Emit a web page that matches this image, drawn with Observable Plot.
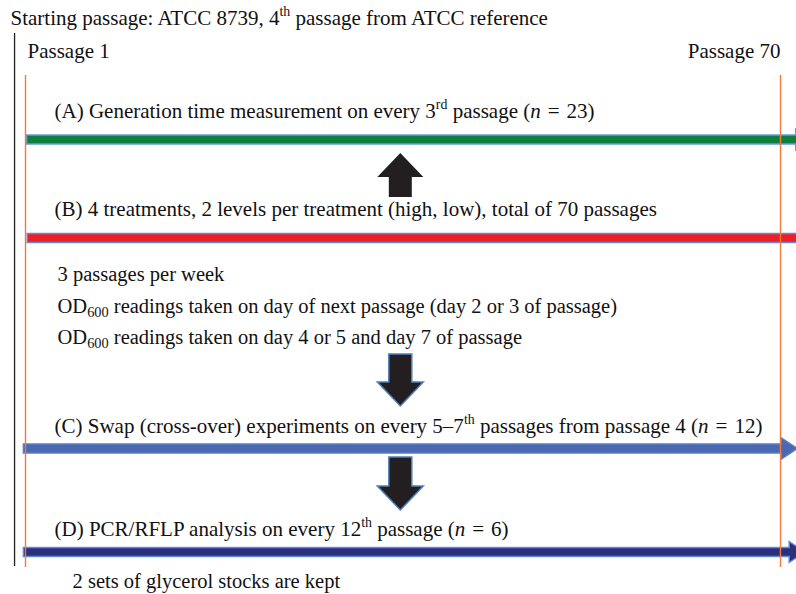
<!DOCTYPE html>
<html>
<head>
<meta charset="utf-8">
<script src="https://cdn.jsdelivr.net/npm/d3@7"></script>
<script src="https://cdn.jsdelivr.net/npm/@observablehq/plot@0.6"></script>
<style>
  html, body { margin: 0; padding: 0; background: #fff; }
  #chart svg { display: block; }
</style>
</head>
<body>
<div id="chart"></div>
<script>
// ---------------- data ----------------
const titleText = "Starting passage: ATCC 8739, 4^{th} passage from ATCC reference";
const titlePassage = -0.37;          // title starts just left of the starting stock line
const startPassage = 0;              // starting stock (before passage 1)
const passages = [1, 70];
const passageLabels = ["Passage 1", "Passage 70"];

const stageLabels = [
  "(A) Generation time measurement on every 3^{rd} passage (*n*\u2004=\u200423)",
  "(B) 4 treatments, 2 levels per treatment (high, low), total of 70 passages",
  "(C) Swap (cross-over) experiments on every 5–7^{th} passages from passage 4 (*n*\u2004=\u200412)",
  "(D) PCR/RFLP analysis on every 12^{th} passage (*n*\u2004=\u20046)"
];
const stageLabelPassage = [3.65, 3.65, 3.65, 3.65];
const stageLabelRow = [117, 215, 432, 535];
const stageBarRow = [139.5, 238, 448.5, 552];
const stageBarStart = [1.15, 1.2, 0.85, 0.85];
const stageBarTip = [72.9, 73.0, 71.6, 72.3];

const notes = [
  "3 passages per week",
  "OD_{600} readings taken on day of next passage (day 2 or 3 of passage)",
  "OD_{600} readings taken on day 4 or 5 and day 7 of passage",
  "2 sets of glycerol stocks are kept"
];
const notePassage = [3.93, 3.93, 3.93, 5.3];
const noteRow = [280, 312, 343, 587];

// flow arrows between stages (rows: tail -> tip)
const flowPassage = 35.3;
const flowFrom = [197, 354, 457];
const flowTo = [153, 406, 510];

const titleRow = 24;
const passageLabelRow = 57;
const timelineTop = 75, timelineBottom = 567;
const startLineTop = 33, startLineBottom = 566;

// ---------------- style ----------------
const FONT = "Liberation Serif";
const FS = 21;
const NOTE_FS = 20.5;
const STAGE_FILLS = ["#0f7f40", "#ee1f26", "#4a69b0", "#2b2f7e"];
const STAGE_OUTLINES = ["#6a9ad6", "#5b8fd0", "#5a7fc4", "#5b8fd6"];
const FLOW_OUTLINES = [null, "#4f81bd", "#4f81bd"];
const BAR_HALF = 4.5, HEAD_HALF = 10.5, HEAD_LEN = 16;
const SHAFT_HALF = 11.5, VHEAD_HALF = 23, VHEAD_LEN = 24;

function arrows(index, scales, values, dimensions) {
  const {x, y} = scales;
  const g = d3.create("svg:g");
  stageBarRow.forEach((row, i) => {
    const x0 = x(stageBarStart[i]), x1 = x(stageBarTip[i]), cy = y(row);
    const pts = [[x0, cy - BAR_HALF], [x1 - HEAD_LEN, cy - BAR_HALF], [x1 - HEAD_LEN, cy - HEAD_HALF],
      [x1, cy], [x1 - HEAD_LEN, cy + HEAD_HALF], [x1 - HEAD_LEN, cy + BAR_HALF], [x0, cy + BAR_HALF]];
    g.append("path")
      .attr("d", "M" + pts.map(p => p.join(",")).join("L") + "Z")
      .attr("fill", STAGE_FILLS[i])
      .attr("stroke", STAGE_OUTLINES[i])
      .attr("stroke-width", 1.4);
  });
  const cx = x(flowPassage);
  flowFrom.forEach((from, i) => {
    const y0 = y(from), y1 = y(flowTo[i]);
    const s = Math.sign(y1 - y0);
    const hb = y1 - s * VHEAD_LEN;
    const pts = [[cx - SHAFT_HALF, y0], [cx + SHAFT_HALF, y0], [cx + SHAFT_HALF, hb], [cx + VHEAD_HALF, hb],
      [cx, y1], [cx - VHEAD_HALF, hb], [cx - SHAFT_HALF, hb]];
    const p = g.append("path")
      .attr("d", "M" + pts.map(p => p.join(",")).join("L") + "Z")
      .attr("fill", "#231f20");
    if (FLOW_OUTLINES[i]) p.attr("stroke", FLOW_OUTLINES[i]).attr("stroke-width", 1.5).attr("stroke-linejoin", "miter");
  });
  return g.node();
}

function richify(svg) {
  const NS = "http://www.w3.org/2000/svg";
  svg.querySelectorAll("text").forEach(t => {
    const s = t.textContent;
    if (!/\^\{|_\{|\*/.test(s)) return;
    const fs = parseFloat(getComputedStyle(t).fontSize) || FS;
    t.textContent = "";
    const re = /(\^\{[^}]*\}|_\{[^}]*\}|\*[^*]*\*)/g;
    let shift = 0;
    for (const part of s.split(re)) {
      if (!part) continue;
      const ts = document.createElementNS(NS, "tspan");
      let target = 0, txt = part;
      if (part.startsWith("^{")) {
        target = -0.42 * fs; txt = part.slice(2, -1); ts.setAttribute("font-size", 0.66 * fs);
      } else if (part.startsWith("_{")) {
        target = 0.2 * fs; txt = part.slice(2, -1); ts.setAttribute("font-size", 0.7 * fs);
      } else if (part.startsWith("*")) {
        txt = part.slice(1, -1); ts.setAttribute("font-style", "italic");
      }
      const dy = target - shift;
      if (dy) ts.setAttribute("dy", dy);
      shift = target;
      ts.textContent = txt;
      t.appendChild(ts);
    }
  });
}

const textOpts = {textAnchor: "start", lineAnchor: "bottom", fontSize: FS, fill: "#111"};

const chart = Plot.plot({
  width: 796,
  height: 594,
  margin: 0,
  style: {fontFamily: FONT, background: "#fff", color: "#111"},
  x: {domain: passages, range: [25, 780], axis: null},
  y: {domain: [0, 594], range: [0, 594], axis: null},
  marks: [
    arrows,
    // starting stock line
    Plot.ruleX([startPassage], {x: d => d, y1: startLineTop, y2: startLineBottom, stroke: "#231f20", strokeWidth: 1.3}),
    // passage 1 and passage 70 lines
    Plot.ruleX(passages, {x: d => d, y1: timelineTop, y2: timelineBottom, stroke: "#f47a3a", strokeWidth: 1.4}),
    Plot.text([titleText], {...textOpts, x: () => titlePassage, y: () => titleRow, text: d => d}),
    Plot.text([passageLabels[0]], {...textOpts, x: () => passages[0], y: () => passageLabelRow, text: d => d, dx: 2}),
    Plot.text([passageLabels[1]], {...textOpts, textAnchor: "end", x: () => passages[1], y: () => passageLabelRow, text: d => d}),
    Plot.text(stageLabels, {...textOpts, x: (d, i) => stageLabelPassage[i], y: (d, i) => stageLabelRow[i], text: d => d}),
    Plot.text(notes, {...textOpts, fontSize: NOTE_FS, x: (d, i) => notePassage[i], y: (d, i) => noteRow[i], text: d => d})
  ]
});

document.getElementById("chart").appendChild(chart);
richify(chart);
</script>
</body>
</html>
